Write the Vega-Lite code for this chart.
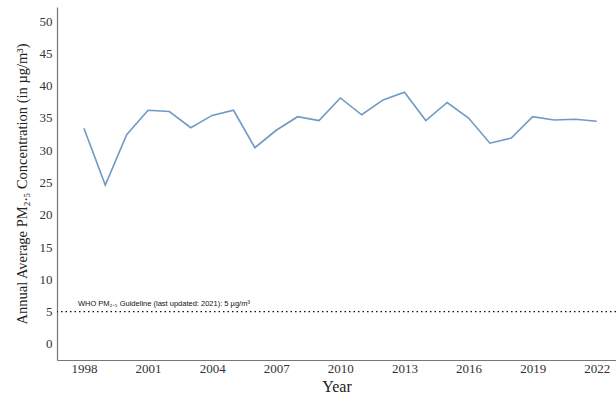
{
  "$schema": "https://vega.github.io/schema/vega-lite/v6.json",
  "autosize": "none",
  "width": 559,
  "height": 353,
  "padding": {"left": 57, "top": 7, "right": 0, "bottom": 40},
  "background": "white",
  "config": {
    "view": {"stroke": null},
    "axis": {"grid": false, "ticks": false, "domainColor": "#777", "domainWidth": 1.2, "labelOverlap": false,
      "labelFont": "Liberation Serif", "labelFontSize": 13, "labelColor": "#333",
      "titleFont": "Liberation Serif", "titleFontSize": 16, "titleFontWeight": "normal", "titleColor": "#222"},
    "axisY": {"values": [0, 5, 10, 15, 20, 25, 30, 35, 40, 45, 50], "titleFontSize": 14.5, "labelPadding": 5, "titlePadding": 10}
  },
  "datasets": {
    "pm": [
      {"year": 1998, "pm25": 33.4}, {"year": 1999, "pm25": 24.6}, {"year": 2000, "pm25": 32.4},
      {"year": 2001, "pm25": 36.2}, {"year": 2002, "pm25": 36.0}, {"year": 2003, "pm25": 33.5},
      {"year": 2004, "pm25": 35.4}, {"year": 2005, "pm25": 36.2}, {"year": 2006, "pm25": 30.4},
      {"year": 2007, "pm25": 33.1}, {"year": 2008, "pm25": 35.2}, {"year": 2009, "pm25": 34.6},
      {"year": 2010, "pm25": 38.1}, {"year": 2011, "pm25": 35.5}, {"year": 2012, "pm25": 37.8},
      {"year": 2013, "pm25": 39.0}, {"year": 2014, "pm25": 34.6}, {"year": 2015, "pm25": 37.4},
      {"year": 2016, "pm25": 35.0}, {"year": 2017, "pm25": 31.1}, {"year": 2018, "pm25": 31.9},
      {"year": 2019, "pm25": 35.2}, {"year": 2020, "pm25": 34.7}, {"year": 2021, "pm25": 34.8},
      {"year": 2022, "pm25": 34.5}
    ],
    "guide": [
      {"pm25": 5, "year": 1997.72, "label": "WHO PM₂.₅ Guideline (last updated: 2021): 5 µg/m³"}
    ]
  },
  "layer": [
    {
      "data": {"name": "pm"},
      "mark": {"type": "line", "color": "#7099c6", "strokeWidth": 1.6},
      "encoding": {
        "x": {"field": "year", "type": "quantitative", "title": "Year",
          "scale": {"domain": [1996.74, 2022.9], "nice": false, "zero": false},
          "axis": {"values": [1998, 2001, 2004, 2007, 2010, 2013, 2016, 2019, 2022], "format": "d", "labelPadding": 2, "titlePadding": 3, "labelFlush": false}},
        "y": {"field": "pm25", "type": "quantitative", "title": "Annual Average PM₂.₅ Concentration (in µg/m³)",
          "scale": {"domain": [-2.5, 52.2], "nice": false, "zero": false}}
      }
    },
    {
      "data": {"name": "guide"},
      "mark": {"type": "rule", "color": "#111", "strokeDash": [1.5, 3], "strokeWidth": 1.3},
      "encoding": {"y": {"field": "pm25", "type": "quantitative", "title": "Annual Average PM₂.₅ Concentration (in µg/m³)"}}
    },
    {
      "data": {"name": "guide"},
      "mark": {"type": "text", "align": "left", "baseline": "bottom", "dy": -4, "font": "Liberation Sans", "fontSize": 7.5, "color": "#111"},
      "encoding": {
        "x": {"field": "year", "type": "quantitative", "title": "Year",
          "axis": {"values": [1998, 2001, 2004, 2007, 2010, 2013, 2016, 2019, 2022], "format": "d", "labelPadding": 2, "titlePadding": 3, "labelFlush": false}},
        "y": {"field": "pm25", "type": "quantitative", "title": "Annual Average PM₂.₅ Concentration (in µg/m³)"},
        "text": {"field": "label"}
      }
    }
  ]
}
